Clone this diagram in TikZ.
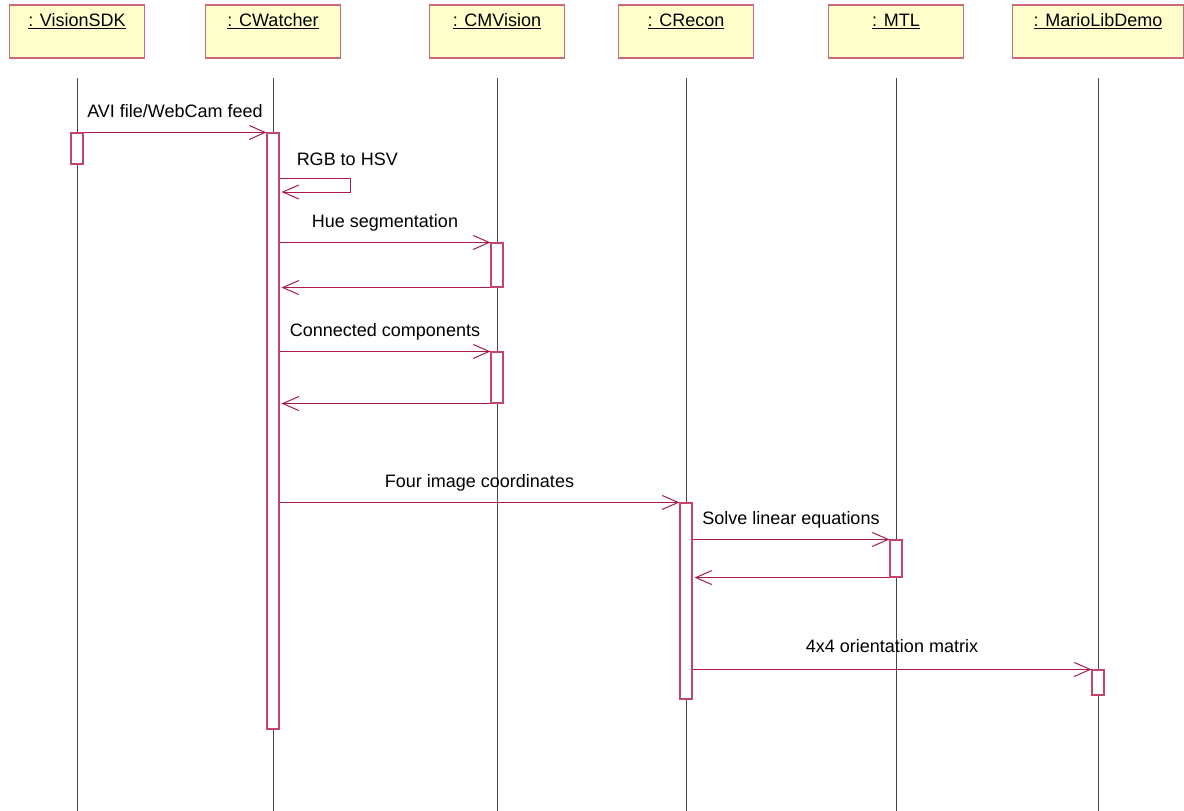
\documentclass[tikz,border=0pt]{standalone}
\usepackage{fontspec}
\setmainfont{Liberation Sans}
\usetikzlibrary{arrows.meta,calc}
\definecolor{msgc}{RGB}{170,25,80}
\definecolor{boxc}{RGB}{205,105,125}
\definecolor{actc}{RGB}{195,70,105}
\definecolor{objfill}{RGB}{255,255,204}
\definecolor{lifec}{RGB}{70,70,70}
\begin{document}
\begin{tikzpicture}[x=1pt,y=-1pt,font=\fontsize{18}{22}\selectfont,
  obj/.style={draw=boxc,fill=objfill,line width=1.3pt,minimum width=135pt,minimum height=53pt,inner ysep=0pt,text height=22pt,text depth=31pt},
  life/.style={draw=lifec,line width=0.8pt},
  act/.style={draw=actc,fill=white,line width=1.1pt,minimum width=12pt,inner sep=0pt},
  msg/.style={draw=msgc,line width=1pt,-{Straight Barb[length=16pt,width=14pt,line width=1pt]}},
  lab/.style={anchor=base,yshift=15pt,inner sep=0pt}]
\useasboundingbox (0,0) rectangle (1184,811);
% objects
\node[obj] (vs) at (77,31.5) {\underline{: VisionSDK}};
\node[obj] (cw) at (273,31.5) {\underline{: CWatcher}};
\node[obj] (cm) at (497,31.5) {\underline{: CMVision}};
\node[obj] (cr) at (686,31.5) {\underline{: CRecon}};
\node[obj] (mt) at (896,31.5) {\underline{: MTL}};
\node[obj,minimum width=171pt] (ml) at (1098,31.5) {\underline{: MarioLibDemo}};
% lifelines
\foreach \o in {vs,cw,cm,cr,mt,ml}{
  \draw[life] (\o.south |- 0,78) -- (\o.south |- 0,811);
}
% activations
\node[act,minimum height=31pt] (vsA) at (77,148.5) {};
\node[act,minimum height=596pt] (cwA) at (273,431) {};
\node[act,minimum height=44pt] (cmA1) at (497,265) {};
\node[act,minimum height=51pt] (cmA2) at (497,377.5) {};
\node[act,minimum height=196pt] (crA) at (686,601) {};
\node[act,minimum height=37pt] (mtA) at (896,558.5) {};
\node[act,minimum height=25pt] (mlA) at (1098,682.5) {};
% messages
\draw[msg] (vsA.north east) -- node[lab,midway] {AVI file/WebCam feed} (cwA.north west);
\coordinate (s1) at (cwA.east |- 0,178);
\coordinate (s2) at (cwA.east |- 0,192);
\draw[msg] (s1) -- ($(s1)+(71,0)$) -- ($(s2)+(71,0)$) -- ($(s2)+(2,0)$);
\node[anchor=base west,inner sep=0pt] (rgb) at ($(s1)+(17,-13)$) {RGB to HSV};
\draw[msg] (cmA1.north west -| cwA.east) -- node[lab,midway] {Hue segmentation} (cmA1.north west);
\draw[msg] (cmA1.south west) -- ($(cmA1.south west -| cwA.east)+(2,0)$);
\draw[msg] (cmA2.north west -| cwA.east) -- node[lab,midway] {Connected components} (cmA2.north west);
\draw[msg] (cmA2.south west) -- ($(cmA2.south west -| cwA.east)+(2,0)$);
\draw[msg] (crA.north west -| cwA.east) -- node[lab,midway] {Four image coordinates} (crA.north west);
\draw[msg] (mtA.north west -| crA.east) -- node[lab,midway] {Solve linear equations} (mtA.north west);
\draw[msg] (mtA.south west) -- ($(mtA.south west -| crA.east)+(2,0)$);
\draw[msg] (mlA.north west -| crA.east) -- node[lab,midway,yshift=2pt] {4x4 orientation matrix} (mlA.north west);
\end{tikzpicture}
\end{document}
